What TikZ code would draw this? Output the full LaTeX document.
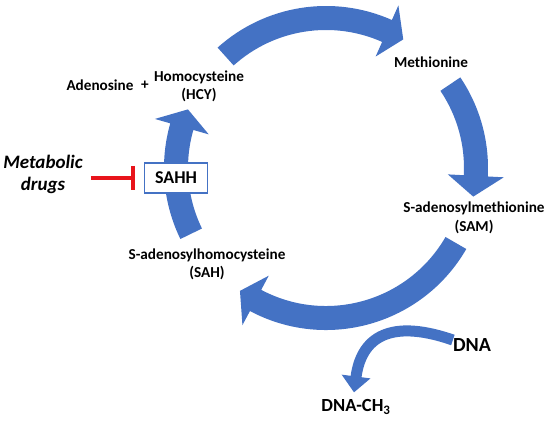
\documentclass[tikz,border=0pt]{standalone}
\usepackage{fontspec}
\setmainfont{Carlito}
\usetikzlibrary{arrows.meta,calc}
\definecolor{cycblue}{HTML}{4472C4}
\definecolor{inhred}{HTML}{E8141B}
\begin{document}
\begin{tikzpicture}[x=1pt,y=1pt,
  lbl/.style={font=\bfseries\fontsize{15.2}{18.5}\selectfont, align=center, inner sep=0pt},
  biglbl/.style={font=\bfseries\fontsize{20}{22}\selectfont, align=center, inner sep=0pt},
  drugslbl/.style={font=\bfseries\itshape\fontsize{19}{22}\selectfont, align=center, inner sep=0pt},
  enzbox/.style={draw=cycblue, line width=1.2pt, fill=white, minimum width=63pt, minimum height=30pt, inner sep=0pt, font=\bfseries\fontsize{18}{20}\selectfont},
  inhib/.style={draw=inhred, line width=3.5pt, -{Bar[width=24pt,line width=4pt]}},
  dnaarrow/.style={draw=cycblue, line width=11pt, -{Triangle[width=28pt,length=16pt]}}]
\useasboundingbox (0,0) rectangle (550,423);
\coordinate (C) at (326,255);
\foreach \a/\b/\c in {132/66/59, 34/-3/-11, -30/-118/-125, 206/164/157}{
  \fill[cycblue] ($(C)+(\a:162pt)$) arc[start angle=\a, end angle=\b, radius=162pt]
    -- ($(C)+(\b:178pt)$) -- ($(C)+(\c:150pt)$) -- ($(C)+(\b:122pt)$)
    -- ($(C)+(\b:138pt)$) arc[start angle=\b, end angle=\a, radius=138pt] -- cycle;
}
\node[lbl] (aden) at (100,338) {Adenosine};
\node[lbl] (plus) at (145,338) {+};
\node[lbl] (hcy) at (199,336.5) {Homocysteine\\(HCY)};
\node[lbl] (met) at (431,361) {Methionine};
\node[lbl] (sam) at (474,205) {S-adenosylmethionine\\(SAM)};
\node[lbl] (sah) at (207,158.5) {S-adenosylhomocysteine\\(SAH)};
\node[enzbox] (sahh) at (176,245) {SAHH};
\node[drugslbl] (drugs) at (43,249) {Metabolic\\drugs};
\draw[inhib, shorten <=8pt, shorten >=9pt] (drugs.east |- sahh.west) -- (sahh.west);
\node[biglbl] (dna) at (472,78) {DNA};
\node[biglbl, font=\bfseries\fontsize{18.5}{22}\selectfont] (dnach) at (356,16) {DNA-CH\textsubscript{3}};
\draw[dnaarrow] ([yshift=5pt]dna.west) .. controls (398,102) and (362,92) .. ([xshift=-2pt,yshift=7pt]dnach.north);
\end{tikzpicture}
\end{document}
